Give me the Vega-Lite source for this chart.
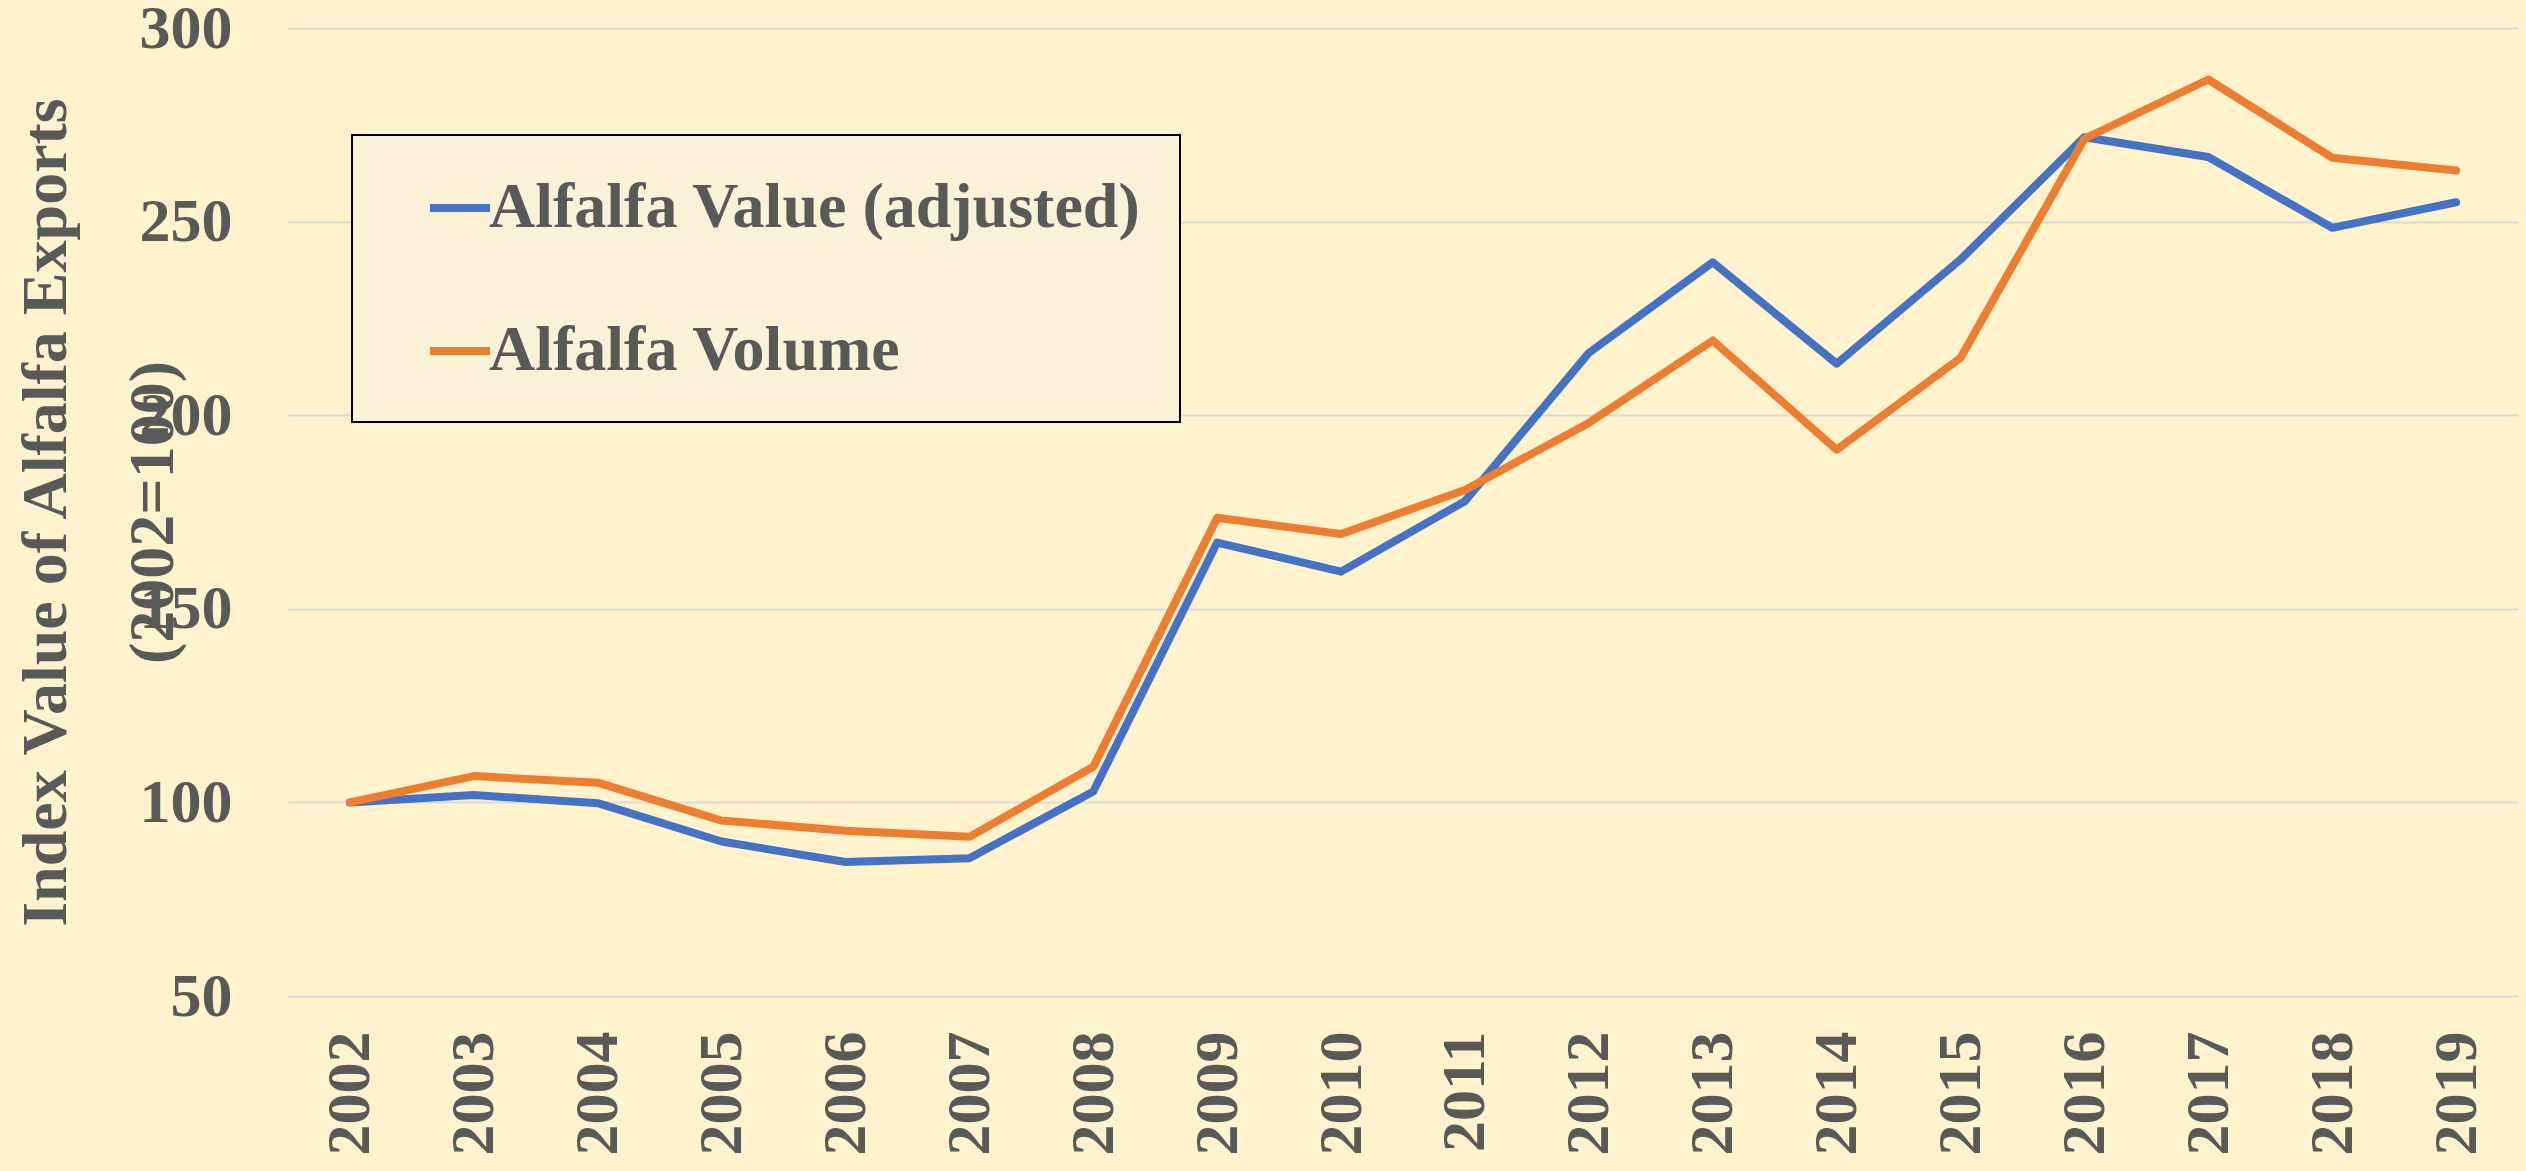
{
  "$schema": "https://vega.github.io/schema/vega-lite/v6.json",
  "width": 2230,
  "height": 968,
  "autosize": {"type": "none"},
  "padding": {"left": 288, "top": 28, "right": 8, "bottom": 175},
  "background": "#FFF2CC",
  "config": {
    "view": {"stroke": null},
    "font": "Liberation Serif",
    "legend": {"strokeWidth": 2}
  },
  "data": {
    "values": [
      {"year": "2002", "series": "Alfalfa Value (adjusted)", "index": 100},
      {"year": "2003", "series": "Alfalfa Value (adjusted)", "index": 101.9},
      {"year": "2004", "series": "Alfalfa Value (adjusted)", "index": 99.8},
      {"year": "2005", "series": "Alfalfa Value (adjusted)", "index": 89.9},
      {"year": "2006", "series": "Alfalfa Value (adjusted)", "index": 84.6},
      {"year": "2007", "series": "Alfalfa Value (adjusted)", "index": 85.6},
      {"year": "2008", "series": "Alfalfa Value (adjusted)", "index": 102.8},
      {"year": "2009", "series": "Alfalfa Value (adjusted)", "index": 167.1},
      {"year": "2010", "series": "Alfalfa Value (adjusted)", "index": 159.6},
      {"year": "2011", "series": "Alfalfa Value (adjusted)", "index": 177.8},
      {"year": "2012", "series": "Alfalfa Value (adjusted)", "index": 216.1},
      {"year": "2013", "series": "Alfalfa Value (adjusted)", "index": 239.5},
      {"year": "2014", "series": "Alfalfa Value (adjusted)", "index": 213.3},
      {"year": "2015", "series": "Alfalfa Value (adjusted)", "index": 240.2},
      {"year": "2016", "series": "Alfalfa Value (adjusted)", "index": 271.8},
      {"year": "2017", "series": "Alfalfa Value (adjusted)", "index": 266.7},
      {"year": "2018", "series": "Alfalfa Value (adjusted)", "index": 248.4},
      {"year": "2019", "series": "Alfalfa Value (adjusted)", "index": 255.0},
      {"year": "2002", "series": "Alfalfa Volume", "index": 100},
      {"year": "2003", "series": "Alfalfa Volume", "index": 106.8},
      {"year": "2004", "series": "Alfalfa Volume", "index": 105.1},
      {"year": "2005", "series": "Alfalfa Volume", "index": 95.3},
      {"year": "2006", "series": "Alfalfa Volume", "index": 92.7},
      {"year": "2007", "series": "Alfalfa Volume", "index": 91.1},
      {"year": "2008", "series": "Alfalfa Volume", "index": 109.2},
      {"year": "2009", "series": "Alfalfa Volume", "index": 173.5},
      {"year": "2010", "series": "Alfalfa Volume", "index": 169.3},
      {"year": "2011", "series": "Alfalfa Volume", "index": 180.7},
      {"year": "2012", "series": "Alfalfa Volume", "index": 198.0},
      {"year": "2013", "series": "Alfalfa Volume", "index": 219.3},
      {"year": "2014", "series": "Alfalfa Volume", "index": 191.1},
      {"year": "2015", "series": "Alfalfa Volume", "index": 214.8},
      {"year": "2016", "series": "Alfalfa Volume", "index": 271.4},
      {"year": "2017", "series": "Alfalfa Volume", "index": 286.7},
      {"year": "2018", "series": "Alfalfa Volume", "index": 266.5},
      {"year": "2019", "series": "Alfalfa Volume", "index": 263.2}
    ]
  },
  "mark": {"type": "line", "strokeWidth": 8, "strokeJoin": "round", "strokeCap": "round"},
  "encoding": {
    "x": {
      "field": "year",
      "type": "ordinal",
      "scale": {"type": "point", "padding": 0.5},
      "axis": {
        "title": null,
        "labelAngle": -90,
        "labelFont": "Liberation Serif",
        "labelFontSize": 62,
        "labelFontWeight": "bold",
        "labelColor": "#595959",
        "labelPadding": 35,
        "ticks": false,
        "tickSize": 0,
        "domain": false,
        "grid": false
      }
    },
    "y": {
      "field": "index",
      "type": "quantitative",
      "scale": {"domain": [50, 300], "nice": false, "zero": false},
      "axis": {
        "values": [50, 100, 150, 200, 250, 300],
        "title": ["Index Value of Alfalfa Exports", "(2002=100)"],
        "titleFont": "Liberation Serif",
        "titleFontSize": 64,
        "titleFontWeight": "bold",
        "titleColor": "#595959",
        "titleAngle": -90,
        "titleX": -223,
        "titleY": 484,
        "titleAlign": "center",
        "titleBaseline": "alphabetic",
        "titleLineHeight": 107,
        "labelFont": "Liberation Serif",
        "labelFontSize": 62,
        "labelFontWeight": "bold",
        "labelColor": "#595959",
        "labelPadding": 56,
        "ticks": false,
        "tickSize": 0,
        "domain": false,
        "grid": true,
        "gridColor": "#D9D9D9",
        "gridWidth": 2
      }
    },
    "color": {
      "field": "series",
      "type": "nominal",
      "scale": {"domain": ["Alfalfa Value (adjusted)", "Alfalfa Volume"], "range": ["#4472C4", "#ED7D31"]},
      "legend": {
        "title": null,
        "orient": "none",
        "legendX": 64,
        "legendY": 107,
        "fillColor": "#FAF2D6",
        "strokeColor": "#000000",
        "padding": 39,
        "symbolType": "stroke",
        "symbolSize": 3600,
        "symbolStrokeWidth": 8,
        "symbolOffset": 35,
        "labelOffset": -5,
        "labelExpr": "datum.label + '\u00a0\u00a0'",
        "labelFont": "Liberation Serif",
        "labelFontSize": 64,
        "labelFontWeight": "bold",
        "labelColor": "#595959",
        "labelLimit": 2000,
        "rowPadding": 77
      }
    }
  }
}
